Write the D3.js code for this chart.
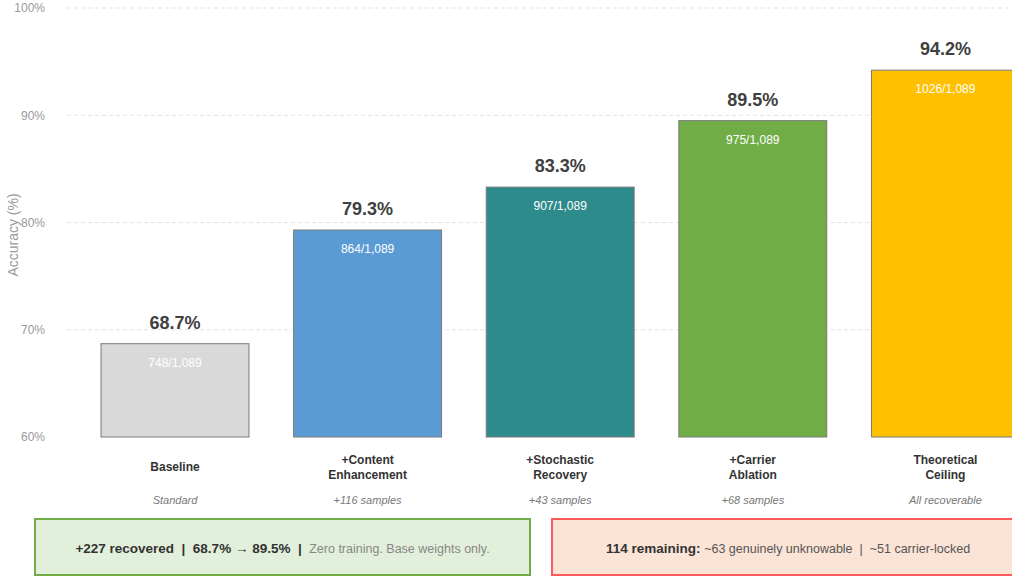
<!DOCTYPE html>
<html>
<head>
<meta charset="utf-8">
<script src="https://cdn.jsdelivr.net/npm/d3@7"></script>
<style>
  body { margin: 0; background: #fff; font-family: "Liberation Sans", Arial, sans-serif; }
  svg { display: block; }
</style>
</head>
<body>
<div id="chart"></div>
<script>
// data
var categories = ["Baseline", "+Content\nEnhancement", "+Stochastic\nRecovery", "+Carrier\nAblation", "Theoretical\nCeiling"];
var accuracy = [68.7, 79.3, 83.3, 89.5, 94.2];
var correct = [748, 864, 907, 975, 1026];
var total = 1089;
var subLabels = ["Standard", "+116 samples", "+43 samples", "+68 samples", "All recoverable"];
var yTicks = [60, 70, 80, 90, 100];

var barColors = ["#d9d9d9", "#5b9bd5", "#2e8b8b", "#70ad47", "#ffc000"];

var width = 1012, height = 578;

var svg = d3.select("#chart").append("svg")
    .attr("width", width)
    .attr("height", height);

var x = d3.scaleBand()
  .domain(categories)
  .range([78.7, 1041.7])
  .paddingInner(0.232)
  .paddingOuter(0.116);

var y = d3.scaleLinear()
  .domain([60, 100])
  .range([437, 8]);

// grid
svg.append("g")
  .selectAll("line")
  .data(yTicks.slice(1))
  .enter().append("line")
    .attr("x1", 67)
    .attr("x2", width)
    .attr("y1", function(d) { return y(d); })
    .attr("y2", function(d) { return y(d); })
    .attr("stroke", "#e3e3e3")
    .attr("stroke-dasharray", "4,3");

// y axis
var yAxis = svg.append("g")
    .attr("transform", "translate(45,0)")
    .call(d3.axisLeft(y).tickValues(yTicks).tickSize(0).tickPadding(0).tickFormat(function(d) { return d + "%"; }));
yAxis.select(".domain").remove();
yAxis.selectAll("text")
    .attr("fill", "#999")
    .style("font-size", "12px")
    .style("font-family", "Liberation Sans, Arial, sans-serif");

svg.append("text")
    .attr("transform", "translate(18,235) rotate(-90)")
    .attr("text-anchor", "middle")
    .attr("fill", "#999")
    .style("font-size", "14px")
    .text("Accuracy (%)");

// bars
var rows = categories.map(function(c, i) {
  return {cat: c, acc: accuracy[i], n: correct[i], sub: subLabels[i], color: barColors[i]};
});

var bar = svg.selectAll(".bar")
  .data(rows)
  .enter().append("g")
    .attr("class", "bar");

bar.append("rect")
    .attr("x", function(d) { return x(d.cat); })
    .attr("y", function(d) { return y(d.acc); })
    .attr("width", x.bandwidth())
    .attr("height", function(d) { return y(60) - y(d.acc); })
    .attr("fill", function(d) { return d.color; })
    .attr("stroke", "#7a7a7a")
    .attr("stroke-width", 1);

bar.append("text")
    .attr("x", function(d) { return x(d.cat) + x.bandwidth() / 2; })
    .attr("y", function(d) { return y(d.acc) - 15; })
    .attr("text-anchor", "middle")
    .attr("fill", "#404040")
    .style("font-size", "18px")
    .style("font-weight", "bold")
    .text(function(d) { return d.acc.toFixed(1) + "%"; });

bar.append("text")
    .attr("x", function(d) { return x(d.cat) + x.bandwidth() / 2; })
    .attr("y", function(d) { return y(d.acc) + 23; })
    .attr("text-anchor", "middle")
    .attr("fill", "#fff")
    .style("font-size", "12px")
    .text(function(d) { return d.n + "/" + d3.format(",")(total); });

// x labels
bar.each(function(d) {
  var lines = d.cat.split("\n");
  var cx = x(d.cat) + x.bandwidth() / 2;
  var t = d3.select(this).append("text")
      .attr("text-anchor", "middle")
      .attr("fill", "#333")
      .style("font-size", "12px")
      .style("font-weight", "bold");
  var y0 = 471 - (lines.length - 1) * 7.5;
  lines.forEach(function(l, j) {
    t.append("tspan")
      .attr("x", cx)
      .attr("y", y0 + j * 15)
      .text(l);
  });
});

bar.append("text")
    .attr("x", function(d) { return x(d.cat) + x.bandwidth() / 2; })
    .attr("y", 504)
    .attr("text-anchor", "middle")
    .attr("fill", "#777")
    .style("font-size", "11px")
    .style("font-style", "italic")
    .text(function(d) { return d.sub; });

// summary boxes
var g1 = svg.append("g");
g1.append("rect")
    .attr("x", 35).attr("y", 519).attr("width", 495).attr("height", 56)
    .attr("fill", "#e2efda").attr("stroke", "#70ad47").attr("stroke-width", 2);
var t1 = g1.append("text")
    .attr("x", 282.5).attr("y", 553)
    .attr("text-anchor", "middle")
    .style("white-space", "pre")
    .style("font-size", "13.5px");
t1.append("tspan").attr("fill", "#333").style("font-weight", "bold")
    .text("+" + (correct[3] - correct[0]) + " recovered  |  " + accuracy[0] + "% \u2192 " + accuracy[3] + "%  |  ");
t1.append("tspan").attr("fill", "#888").style("font-size", "12.5px")
    .text("Zero training. Base weights only.");

var g2 = svg.append("g");
g2.append("rect")
    .attr("x", 552).attr("y", 519).attr("width", 480).attr("height", 56)
    .attr("fill", "#fbe3d6").attr("stroke", "#ff5b5b").attr("stroke-width", 2);
var t2 = g2.append("text")
    .attr("x", 788).attr("y", 553)
    .attr("text-anchor", "middle")
    .style("white-space", "pre")
    .style("font-size", "13.5px");
t2.append("tspan").attr("fill", "#333").style("font-weight", "bold")
    .text((total - correct[3]) + " remaining: ");
t2.append("tspan").attr("fill", "#555").style("font-size", "12.5px")
    .text("~63 genuinely unknowable  |  ~51 carrier-locked");
</script>
</body>
</html>
